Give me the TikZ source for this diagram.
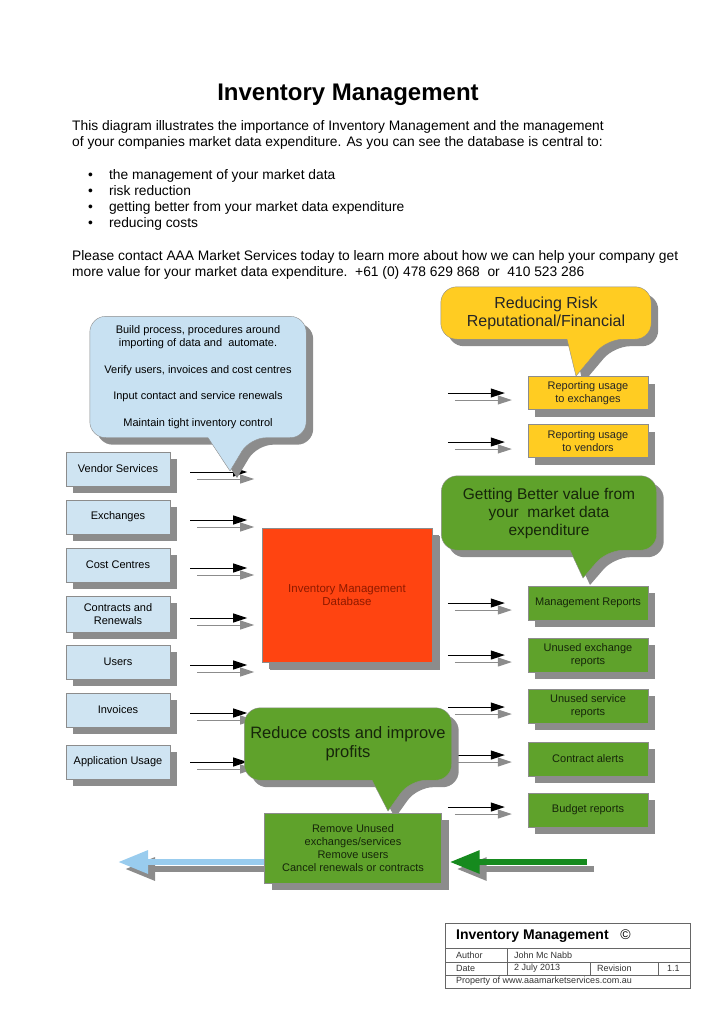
\documentclass[tikz,border=0pt]{standalone}
\usepackage{fontspec}
\setmainfont{Liberation Sans}
\usetikzlibrary{positioning,arrows.meta,shadows,backgrounds}

\definecolor{boxblue}{HTML}{CFE4F2}
\definecolor{talkblue}{HTML}{C8E1F2}
\definecolor{riskyellow}{HTML}{FFCC22}
\definecolor{valuegreen}{HTML}{5FA22B}
\definecolor{textgreen}{HTML}{16260A}
\definecolor{dbred}{HTML}{FF4411}
\definecolor{dbtext}{HTML}{8E1A00}
\definecolor{shadowgray}{HTML}{8C8C8C}
\definecolor{arrowblue}{HTML}{99CCEE}
\definecolor{arrowgreen}{HTML}{168A1E}

% speech bubble round a named node: node, colour, apex, tail left/right offset
\newcommand\bubble[5]{%
  \path[draw=shadowgray, fill=#2, boxshadow, rounded corners=16pt]
    (#1.north) -- (#1.north east) -- (#1.south east)
    -- ([xshift=#5]#1.south) [sharp corners] -- #3
    -- ([xshift=#4]#1.south) [rounded corners=16pt]
    -- (#1.south west) -- (#1.north west) -- cycle;}

\begin{document}
\begin{tikzpicture}[x=1pt, y=-1pt,
  every node/.style={font=\fontsize{11}{13}\selectfont, inner sep=0pt},
  boxshadow/.style={drop shadow={shadow xshift=7pt, shadow yshift=-7pt,
    fill=shadowgray, opacity=1}},
  card/.style={rectangle, draw=shadowgray, boxshadow, align=center},
  source/.style={card, fill=boxblue, minimum width=104pt, minimum height=34pt},
  report/.style={card, fill=riskyellow, minimum width=120pt, minimum height=33pt,
    text=black!85},
  outcome/.style={card, fill=valuegreen, minimum width=120pt, minimum height=34pt,
    text=textgreen},
  talk/.style={align=center},
  feed/.style={line width=1pt, -{Triangle[length=14pt,width=9pt]}},
  bigarrow/.style={line width=6pt, -{Triangle[length=30pt,width=22pt]}}
]
  \useasboundingbox (0,0) rectangle (724,1024);

  % heading and text
  \node[font=\fontsize{24}{28}\selectfont\bfseries] (title) at (348,95)
    {Inventory Management};
  \node[anchor=north west, align=left, font=\fontsize{13.8}{16}\selectfont]
    (intro) at (72,120)
    {This diagram illustrates the importance of Inventory Management and the management\\
     of your companies market data expenditure. As you can see the database is central to:};
  \node[anchor=north west, font=\fontsize{13.8}{16}\selectfont] (points) at (88,168)
    {\begin{tabular}{@{}l@{\hspace{16pt}}l@{}}
      \textbullet & the management of your market data\\
      \textbullet & risk reduction\\
      \textbullet & getting better from your market data expenditure\\
      \textbullet & reducing costs
     \end{tabular}};
  \node[anchor=north west, align=left, font=\fontsize{13.8}{16}\selectfont]
    (contact) at (72,250)
    {Please contact AAA Market Services today to learn more about how we can help your company get\\
     more value for your market data expenditure.\ \ +61 (0) 478 629 868\ \ or\ \ 410 523 286};

  % sources
  \node[source] (vend)  at (118,469) {Vendor Services};
  \node[source] (exch)  at (118,517) {Exchanges};
  \node[source] (cost)  at (118,565) {Cost Centres};
  \node[source, minimum height=36pt] (contr) at (118,614) {Contracts and\\Renewals};
  \node[source] (users) at (118,662) {Users};
  \node[source] (inv)   at (118,710) {Invoices};
  \node[source] (app)   at (118,762) {Application Usage};

  % database
  \node[card, fill=dbred, minimum width=170pt, minimum height=134pt, text=dbtext,
    font=\fontsize{11.5}{13.5}\selectfont,
    drop shadow={shadow xshift=8pt, shadow yshift=-8pt, fill=shadowgray, opacity=1}]
    (db) at (347,595) {Inventory Management\\Database};

  % reports
  \node[report] (rep1) at (588,393) {Reporting usage\\to exchanges};
  \node[report] (rep2) at (588,441) {Reporting usage\\to vendors};
  \node[outcome] (mgmt)   at (588,603) {Management Reports};
  \node[outcome] (unex)   at (588,655) {Unused exchange\\reports};
  \node[outcome] (unsv)   at (588,706) {Unused service\\reports};
  \node[outcome] (alert)  at (588,759) {Contract alerts};
  \node[outcome] (budget) at (588,810) {Budget reports};

  \node[outcome, minimum width=177pt, minimum height=70pt] (remove) at (353,848)
    {Remove Unused\\exchanges/services\\Remove users\\Cancel renewals or contracts};

  % bubble texts
  \node[talk, minimum width=216pt, minimum height=121pt,
    font=\fontsize{11}{13.5}\selectfont] (howto) at (198,377)
    {Build process, procedures around\\importing of data and\ \ automate.\\[13pt]
     Verify users, invoices and cost centres\\[13pt]
     Input contact and service renewals\\[13pt]
     Maintain tight inventory control};
  \node[talk, minimum width=210pt, minimum height=52pt,
    font=\fontsize{16}{18}\selectfont, text=black!85] (risk) at (546,313)
    {Reducing Risk\\Reputational/Financial};
  \node[talk, minimum width=215pt, minimum height=74pt,
    font=\fontsize{15.5}{18}\selectfont, text=textgreen] (value) at (549,513)
    {Getting Better value from\\your\ \ market data\\expenditure};
  \node[talk, minimum width=207pt, minimum height=72pt,
    font=\fontsize{16.5}{19}\selectfont, text=textgreen] (save) at (348,744)
    {Reduce costs and improve\\profits};

  \coordinate (leftend) at (118,862);
  \coordinate (rightstart) at (587,862);

  \begin{scope}[on background layer]
    \foreach \src/\dy in {vend/3, exch/3, cost/3, contr/4, users/3, inv/3, app/0} {
      \draw[feed, shadowgray] ([shift={(27,\dy+7)}]\src.east) -- ++(57,0);
      \draw[feed] ([shift={(20,\dy)}]\src.east) -- ++(57,0);
    }
    \foreach \dst/\dy in {rep1/0, rep2/1, mgmt/0, unex/0, unsv/1, alert/-4, budget/-3} {
      \draw[feed, shadowgray] ([shift={(-73,\dy+7)}]\dst.west) -- ++(57,0);
      \draw[feed] ([shift={(-80,\dy)}]\dst.west) -- ++(57,0);
    }

    \bubble{howto}{talkblue}{(230,471)}{10pt}{52pt}
    \bubble{risk}{riskyellow}{(576,376)}{21pt}{61pt}
    \bubble{value}{valuegreen}{(583,578)}{21pt}{58pt}
    \bubble{save}{valuegreen}{(388,811)}{24pt}{62pt}

    \draw[bigarrow, shadowgray] ([shift={(7,21)}]remove.west) -- ([shift={(7,7)}]leftend);
    \draw[bigarrow, arrowblue] ([shift={(0,14)}]remove.west) -- (leftend);
    \draw[bigarrow, shadowgray] ([shift={(7,7)}]rightstart) -- ([shift={(15,21)}]remove.east);
    \draw[bigarrow, arrowgreen] (rightstart) -- ([shift={(8,14)}]remove.east);
  \end{scope}

  % title block
  \draw[black!60, line width=0.6pt] (445,923) rectangle (690,988)
    (445,948) -- (690,948) (445,962) -- (690,962) (445,975) -- (690,975)
    (507,948) -- (507,975) (590,962) -- (590,975) (658,962) -- (658,975);
  \node[anchor=west, font=\fontsize{14}{16}\selectfont\bfseries] (tbname) at (456,936)
    {Inventory Management\ \ \ \normalfont\copyright};
  \begin{scope}[every node/.style={anchor=west, inner sep=0pt,
      font=\fontsize{9}{10}\selectfont, text=black!80}]
    \node (tbauth) at (456,955.5) {Author};
    \node (tbwho)  at (514,955.5) {John Mc Nabb};
    \node (tbdate) at (456,968.5) {Date};
    \node (tbwhen) at (514,968.5) {2 July 2013};
    \node (tbrev)  at (597,968.5) {Revision};
    \node (tbnum)  at (667,968.5) {1.1};
    \node (tbown)  at (456,981.5) {Property of www.aaamarketservices.com.au};
  \end{scope}
\end{tikzpicture}
\end{document}
